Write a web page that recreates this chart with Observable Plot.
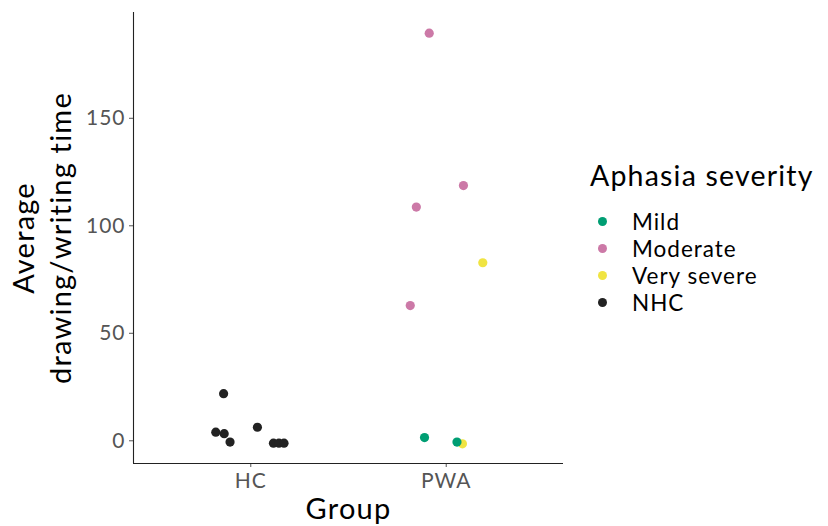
<!DOCTYPE html>
<html>
<head>
<meta charset="utf-8">
<script src="https://cdn.jsdelivr.net/npm/d3@7"></script>
<script src="https://cdn.jsdelivr.net/npm/@observablehq/plot@0.6"></script>
<style>
  html, body { margin: 0; padding: 0; background: #fff; }
  #chart { position: relative; width: 828px; height: 526px; font-family: Lato, "Open Sans", sans-serif; }
  #chart svg g[aria-label$="tick label"] text { letter-spacing: 1px; }
  #chart svg g[aria-label="text"] text { letter-spacing: 1.2px; }
  #legend { position: absolute; left: 590px; top: 158px; color: #000; }
  #legend .title { font-size: 28.5px; line-height: 34px; margin-bottom: 16px; letter-spacing: 1.2px; }
  #legend .item { display: flex; align-items: center; height: 27px; font-size: 22.5px; letter-spacing: 1px; }
  #legend .sw { width: 9px; height: 9px; border-radius: 50%; margin-left: 8px; margin-right: 25px; }
</style>
</head>
<body>
<div id="chart"></div>
<script>
// Groups on the x axis and the severity categories used for colour
const groups = ["HC", "PWA"];
const severities = ["Mild", "Moderate", "Very severe", "NHC"];
const severityColors = ["#009E73", "#CC79A7", "#F0E442", "#222222"];
const yTicks = [0, 50, 100, 150];

// One entry per participant: group, severity, plotted time, horizontal jitter
const pointGroup = ["HC", "HC", "HC", "HC", "HC", "HC", "HC", "HC",
                    "PWA", "PWA", "PWA", "PWA", "PWA", "PWA", "PWA", "PWA"];
const pointSeverity = ["NHC", "NHC", "NHC", "NHC", "NHC", "NHC", "NHC", "NHC",
                       "Moderate", "Moderate", "Moderate", "Moderate", "Very severe", "Very severe", "Mild", "Mild"];
const pointTime = [21.9, 4.0, 3.3, -0.6, 6.3, -1.1, -1.1, -1.1,
                   189.6, 118.7, 108.7, 62.9, 82.8, -1.4, 1.5, -0.6];
const pointJitter = [-0.139, -0.179, -0.136, -0.106, 0.034, 0.116, 0.144, 0.170,
                     -0.087, 0.088, -0.153, -0.184, 0.187, 0.083, -0.111, 0.055];

const points = pointGroup.map((g, i) => ({
  group: g,
  severity: pointSeverity[i],
  time: pointTime[i],
  xpos: groups.indexOf(g) + 1 + pointJitter[i]
}));

const xDomain = [0.4, 2.6];
const yDomain = [-10.56, 199.2];

const chart = Plot.plot({
  width: 828,
  height: 526,
  marginLeft: 133,
  marginRight: 265,
  marginTop: 12,
  marginBottom: 63,
  style: { fontFamily: "Lato, 'Open Sans', sans-serif", background: "#fff" },
  x: { domain: xDomain, axis: null },
  y: { domain: yDomain, axis: null },
  color: { domain: severities, range: severityColors },
  marks: [
    Plot.axisY({ ticks: yTicks, tickSize: 4, tickPadding: 4, fontSize: 21, color: "#555", label: null }),
    Plot.axisX({ ticks: groups.map((g, i) => i + 1), tickFormat: (d) => groups[d - 1],
                 tickSize: 4, tickPadding: 6, fontSize: 21, color: "#555", label: null }),
    Plot.ruleX([xDomain[0]], { stroke: "#222", strokeWidth: 1.1 }),
    Plot.ruleY([yDomain[0]], { stroke: "#222", strokeWidth: 1.1 }),
    Plot.dot(points, { x: "xpos", y: "time", fill: "severity", r: 4.6 }),
    Plot.text(["Average\ndrawing/writing time"], {
      frameAnchor: "left", rotate: -90, dx: -93, fontSize: 29, lineHeight: 1.27,
      textAnchor: "middle", lineAnchor: "middle", fill: "#000"
    }),
    Plot.text(["Group"], {
      frameAnchor: "bottom", dy: 55, fontSize: 29, textAnchor: "middle", lineAnchor: "bottom", fill: "#000"
    })
  ]
});

const root = document.getElementById("chart");
root.appendChild(chart);

// Legend for severity colours
const legend = document.createElement("div");
legend.id = "legend";
legend.innerHTML = `<div class="title">Aphasia severity</div>` +
  severities.map((s, i) =>
    `<div class="item"><span class="sw" style="background:${severityColors[i]}"></span>${s}</div>`
  ).join("");
root.appendChild(legend);
</script>
</body>
</html>
